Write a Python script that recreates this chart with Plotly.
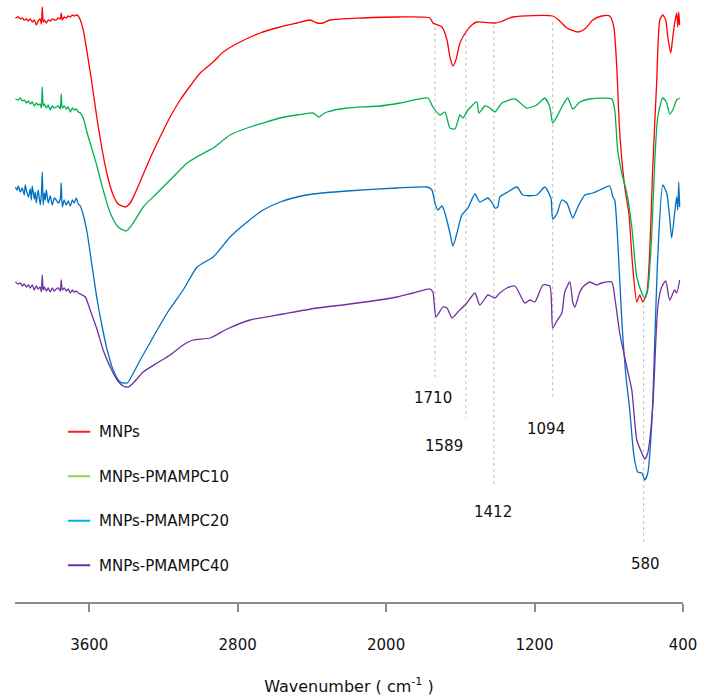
import plotly.graph_objects as go

# ---------------- data ----------------
names = ["MNPs", "MNPs-PMAMPC10", "MNPs-PMAMPC20", "MNPs-PMAMPC40"]

mnps_wn = [3998, 3982, 3971, 3961, 3950, 3939, 3928, 3918, 3907, 3896, 3885, 3875, 3864, 3858, 3853, 3848, 3842, 3831,
           3821, 3810, 3799, 3788, 3778, 3767, 3756, 3751, 3745, 3735, 3724, 3713, 3702, 3691, 3681, 3670, 3659, 3648,
           3632, 3605, 3584, 3557, 3530, 3503, 3471, 3444, 3406, 3379, 3352, 3315, 3271, 3218, 3164, 3110, 3056, 3002,
           2932, 2878, 2787, 2679, 2571, 2480, 2410, 2372, 2340, 2302, 2125, 1941, 1764, 1748, 1699, 1672, 1656, 1640,
           1624, 1602, 1570, 1538, 1511, 1414, 1387, 1317, 1102, 1064, 1026, 967, 929, 886, 838, 795, 773, 757, 741,
           714, 692, 671, 649, 633, 617, 595, 579, 563, 542, 525, 509, 493, 482, 466, 455, 445, 434, 428, 423, 418]
mnps_t = [584, 585, 583, 584, 582, 583, 581, 583, 580, 582, 577, 581, 583, 578, 595, 580, 582, 579,
          582, 581, 583, 582, 582, 584, 583, 589, 582, 585, 584, 586, 585, 587, 586, 587, 586, 582,
          572, 542, 517, 482, 452, 427, 407, 398, 395, 399, 409, 425, 444, 465, 485, 502, 516, 529,
          540, 550, 560, 569, 575, 579, 582, 579, 579, 582, 584, 585, 584, 579, 575, 562, 545, 536,
          542, 559, 570, 577, 580, 579, 580, 585, 586, 581, 574, 570, 573, 582, 586, 586, 575, 535, 469,
          415, 389, 335, 300, 307, 300, 309, 352, 435, 519, 582, 587, 582, 565, 549, 565, 579, 589, 575, 590, 577]

p10_wn = [3998, 3982, 3971, 3961, 3950, 3939, 3928, 3918, 3907, 3896, 3885, 3875, 3864, 3858, 3853, 3848, 3842, 3831,
          3821, 3810, 3799, 3788, 3778, 3767, 3756, 3751, 3745, 3735, 3724, 3713, 3702, 3691, 3681, 3670, 3659, 3648,
          3632, 3611, 3595, 3557, 3525, 3487, 3444, 3401, 3363, 3309, 3234, 3148, 3072, 3002, 2932, 2841, 2749, 2663,
          2571, 2480, 2394, 2372, 2361, 2340, 2318, 2211, 2033, 1925, 1775, 1748, 1710, 1683, 1656, 1629, 1602, 1586,
          1559, 1511, 1500, 1468, 1441, 1414, 1376, 1306, 1242, 1188, 1145, 1118, 1102, 1075, 1053, 1021, 994, 956,
          902, 784, 768, 752, 730, 703, 676, 649, 622, 606, 590, 568, 552, 536, 509, 488, 472, 455, 434, 418]
p10_t = [503, 502, 504, 501, 502, 499, 501, 498, 500, 496, 499, 497, 498, 494, 515, 496, 498, 494,
         497, 492, 496, 494, 495, 496, 493, 508, 494, 496, 493, 495, 490, 494, 492, 493, 490, 489,
         484, 469, 459, 435, 412, 389, 375, 371, 379, 395, 409, 425, 439, 447, 454, 467, 474, 479,
         484, 487, 489, 486, 485, 488, 490, 494, 496, 499, 504, 495, 487, 490, 474, 473, 487, 484,
         492, 500, 489, 496, 494, 490, 499, 503, 494, 497, 504, 495, 479, 487, 495, 504, 493, 500,
         503, 503, 492, 452, 429, 409, 375, 325, 309, 304, 312, 369, 442, 485, 504, 499, 488, 492, 502, 504]

p20_wn = [3998, 3988, 3982, 3971, 3961, 3950, 3945, 3939, 3928, 3918, 3912, 3907, 3896, 3891, 3885, 3875, 3864, 3858,
          3853, 3848, 3842, 3837, 3831, 3821, 3810, 3799, 3788, 3778, 3767, 3756, 3751, 3745, 3735, 3724, 3713, 3702,
          3691, 3681, 3670, 3659, 3648, 3632, 3611, 3584, 3557, 3530, 3503, 3471, 3433, 3395, 3368, 3325, 3255, 3180,
          3094, 3018, 2932, 2841, 2749, 2663, 2571, 2480, 2394, 2211, 1941, 1780, 1753, 1737, 1721, 1699, 1683, 1656,
          1640, 1618, 1592, 1559, 1521, 1495, 1451, 1425, 1414, 1398, 1387, 1344, 1295, 1263, 1188, 1145, 1112, 1102,
          1080, 1053, 1026, 994, 967, 929, 886, 848, 795, 778, 768, 752, 730, 708, 687, 665, 644, 622, 606, 590, 568,
          552, 536, 509, 488, 472, 461, 445, 434, 428, 423, 418]
p20_t = [415, 412, 416, 410, 414, 407, 417, 412, 405, 413, 402, 416, 403, 410, 399, 412, 397, 407,
         430, 397, 409, 402, 412, 399, 406, 397, 404, 402, 399, 403, 419, 395, 402, 397, 401, 396,
         402, 399, 404, 398, 396, 387, 369, 335, 302, 275, 252, 232, 220, 219, 227, 242, 265, 289,
         312, 335, 345, 365, 380, 392, 400, 405, 408, 411, 414, 415, 412, 399, 392, 396, 389, 369,
         356, 369, 387, 394, 408, 400, 404, 398, 394, 395, 405, 410, 415, 407, 407, 415, 404, 383,
         388, 402, 399, 384, 395, 407, 409, 412, 416, 405, 402, 362, 282, 227, 192, 147, 130, 129, 122, 129, 179,
         262, 345, 417, 409, 385, 364, 389, 405, 392, 420, 395]

p40_wn = [3998, 3982, 3971, 3961, 3950, 3939, 3928, 3918, 3907, 3896, 3885, 3875, 3864, 3858, 3853, 3848, 3842, 3831,
          3821, 3810, 3799, 3788, 3778, 3767, 3756, 3751, 3745, 3735, 3724, 3713, 3702, 3691, 3681, 3670, 3659, 3648,
          3621, 3595, 3557, 3525, 3487, 3449, 3417, 3390, 3363, 3309, 3234, 3164, 3094, 3040, 2948, 2857, 2733, 2555,
          2372, 2195, 1941, 1855, 1764, 1748, 1731, 1694, 1672, 1645, 1613, 1565, 1521, 1495, 1451, 1414, 1387, 1349,
          1306, 1252, 1225, 1198, 1155, 1118, 1102, 1080, 1053, 1037, 1010, 994, 983, 956, 940, 902, 865, 838, 784,
          768, 741, 703, 676, 649, 622, 606, 590, 563, 536, 515, 493, 472, 445, 434, 418]
p40_t = [320, 318, 319, 316, 318, 315, 317, 314, 317, 312, 316, 313, 315, 310, 327, 312, 315, 311,
         314, 310, 314, 311, 313, 314, 311, 322, 312, 314, 311, 313, 309, 312, 310, 311, 309, 308,
         305, 292, 272, 252, 235, 222, 216, 215, 219, 230, 239, 247, 257, 262, 264, 273, 282, 288,
         294, 298, 305, 309, 313, 310, 285, 295, 294, 284, 290, 299, 309, 297, 307, 304, 309, 314,
         316, 299, 302, 300, 317, 316, 274, 281, 289, 310, 320, 300, 295, 310, 315, 320, 317, 319, 320,
         305, 269, 235, 212, 162, 149, 143, 149, 195, 295, 315, 321, 302, 312, 309, 322]

peak_labels = ["1710", "1589", "1412", "1094", "580"]
peak_line_wn = [1737, 1570, 1419, 1102, 612]
peak_line_top = [575, 569, 577, 580, 297]
peak_line_bottom = [225, 184, 115, 204, 57]
peak_label_wn = [1748, 1689, 1425, 1140, 601]
peak_label_t = [204, 156, 90, 173, 38]

tick_vals = [3600, 2800, 2000, 1200, 400]

# ---------------- styles ----------------
line_colors = ["#FF0000", "#00B050", "#0070C0", "#7030A0"]
legend_colors = ["#FF2020", "#92D050", "#00B0F0", "#7030A0"]
FONT = "DejaVu Sans"

series = [(mnps_wn, mnps_t), (p10_wn, p10_t), (p20_wn, p20_t), (p40_wn, p40_t)]

fig = go.Figure()
for (wn, t), name, col in zip(series, names, line_colors):
    fig.add_trace(go.Scatter(x=wn, y=t, mode="lines", name=name, showlegend=False,
                             line=dict(color=col, width=1.3, shape="spline", smoothing=0.6)))

# legend entries (separate colours as in the reference legend)
for i, (name, col) in enumerate(zip(names, legend_colors)):
    fig.add_trace(go.Scatter(x=[None], y=[None], mode="markers", name=name,
                             legendgroup=f"g{i}", showlegend=True,
                             marker=dict(symbol="line-ew-open", size=16, color=col,
                                         line=dict(color=col, width=2))))

for wn, y0, y1 in zip(peak_line_wn, peak_line_top, peak_line_bottom):
    fig.add_shape(type="line", xref="x", yref="y", x0=wn, x1=wn, y0=y0, y1=y1,
                  line=dict(color="#BDBDBD", width=1, dash="dot"), layer="below")

for lab, wn, t in zip(peak_labels, peak_label_wn, peak_label_t):
    fig.add_annotation(x=wn, y=t, xref="x", yref="y", text=lab, showarrow=False,
                       font=dict(family=FONT, size=15, color="#111111"))

fig.update_layout(
    width=701, height=697,
    margin=dict(l=15, r=18, t=0, b=95, autoexpand=False),
    paper_bgcolor="white", plot_bgcolor="white",
    font=dict(family=FONT, size=15, color="#111111"),
    legend=dict(x=0.066, y=0.31, xanchor="left", yanchor="top",
                traceorder="grouped", tracegroupgap=22,
                font=dict(family=FONT, size=15, color="#111111"),
                bgcolor="rgba(0,0,0,0)"),
    xaxis=dict(range=[4000, 400], tickvals=tick_vals, ticktext=[str(v) for v in tick_vals],
               showgrid=False, zeroline=False, showline=True, linecolor="#8C8C8C", linewidth=1.5,
               ticks="outside", ticklen=8, tickcolor="#8C8C8C", tickwidth=1.5,
               ticklabelstandoff=20,
               tickfont=dict(family=FONT, size=15, color="#111111"),
               title=dict(text="Wavenumber ( cm<sup>-1</sup> )", standoff=28,
                          font=dict(family=FONT, size=16, color="#111111"))),
    yaxis=dict(range=[0, 602], visible=False, showgrid=False, zeroline=False),
    hovermode=False,
)

fig.write_html("out.html", config={"displayModeBar": False},
               post_script="document.body.style.margin='0';document.body.style.overflow='hidden';")
